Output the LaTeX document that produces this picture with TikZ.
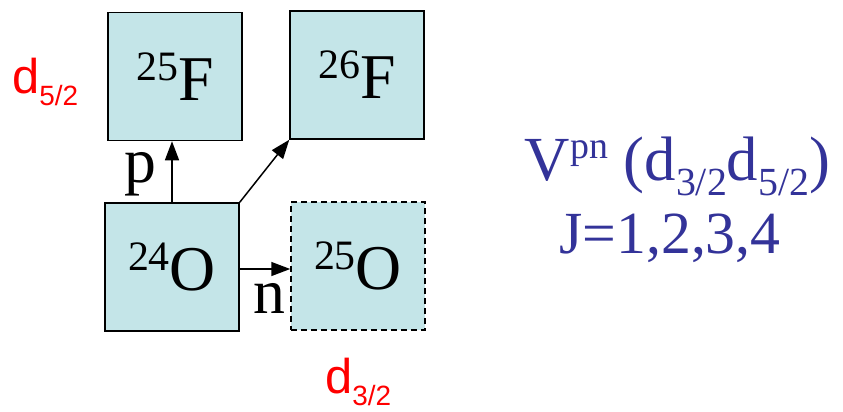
\documentclass[tikz,border=0pt]{standalone}
\usepackage{fontspec}
\setmainfont{Liberation Serif}
\newfontfamily\arialfont{Liberation Sans}
\usetikzlibrary{arrows.meta}
\definecolor{boxfill}{RGB}{196,229,232}
\definecolor{vblue}{RGB}{51,51,153}
\definecolor{dred}{RGB}{255,0,0}
\newcommand{\nuc}[2]{{\fontsize{42}{42}\selectfont\raisebox{20bp}{#1}}{\fontsize{64}{64}\selectfont #2}}
\tikzset{
  nucbox/.style={draw=black, line width=1.5bp, fill=boxfill, minimum width=134bp, minimum height=128bp, inner sep=0pt, font=\fontsize{64}{64}\selectfont},
  flow/.style={line width=1.5bp, -{Triangle[length=19bp,width=14bp]}},
  lbl/.style={inner sep=0pt, font=\fontsize{64}{64}\selectfont},
  orb/.style={inner sep=0pt, text=dred, font=\arialfont\fontsize{49}{49}\selectfont},
  vtext/.style={inner sep=0pt, text=vblue, font=\fontsize{63}{63}\selectfont}
}
\newcommand{\orbsub}[1]{\raisebox{-12bp}{\fontsize{28}{28}\selectfont #1}}
\begin{document}
\begin{tikzpicture}[x=1bp,y=-1bp]
\useasboundingbox (0,0) rectangle (843,411);
\node[nucbox] (f25) at (175,76.5) {\nuc{25}{F}};
\node[nucbox] (f26) at (357,75) {\nuc{26}{F}};
\node[nucbox] (o24) at (172,267) {\nuc{24}{O}};
\node[nucbox, dash pattern=on 6bp off 4bp] (o25) at (358,266) {\nuc{25}{O}};
\coordinate (nstart) at ([yshift=-2bp]o24.east);
\draw[flow] (o24.north) -- (o24.north |- f25.south);
\draw[flow] (o24.north east) -- (f26.south west);
\draw[flow] (nstart) -- (nstart -| o25.west);
\node[lbl, anchor=base] (plab) at (140,182) {p};
\node[lbl, anchor=base] (nlab) at (269,313) {n};
\node[orb, anchor=base west] (d52) at (12,93) {d\orbsub{5/2}};
\node[orb, anchor=base west] (d32) at (325,393) {d\orbsub{3/2}};
\node[vtext, anchor=base] (vpn) at (677.5,180) {V\raisebox{22bp}{\fontsize{38}{38}\selectfont pn} (d\raisebox{-15bp}{\fontsize{40}{40}\selectfont 3/2}d\raisebox{-15bp}{\fontsize{40}{40}\selectfont 5/2})};
\node[vtext, anchor=base, font=\fontsize{60}{60}\selectfont] (jval) at (670,253) {J=1,2,3,4};
\end{tikzpicture}
\end{document}
